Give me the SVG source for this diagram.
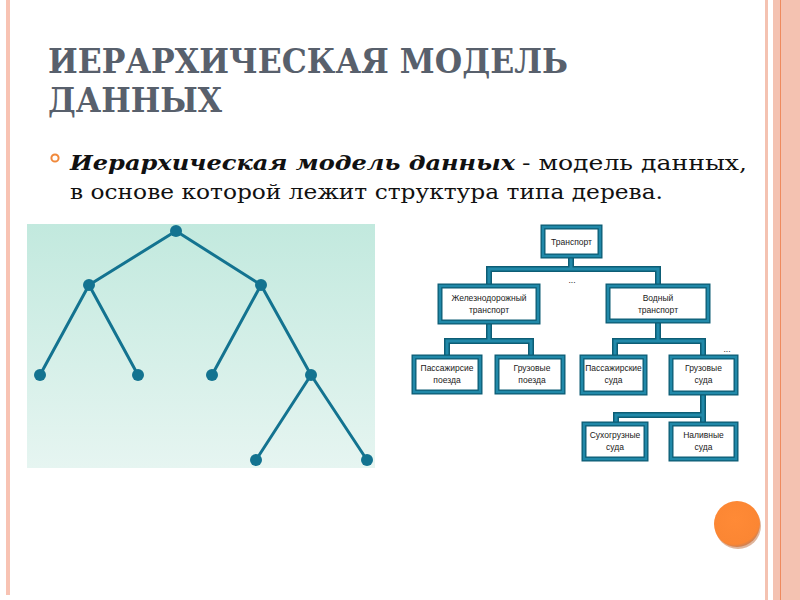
<svg xmlns="http://www.w3.org/2000/svg" width="800" height="600" viewBox="0 0 800 600">
  <defs>
    <linearGradient id="bg" x1="0" y1="0" x2="0" y2="1">
      <stop offset="0" stop-color="#c2e9de"/>
      <stop offset="1" stop-color="#e6f5f1"/>
    </linearGradient>
    <radialGradient id="dot" cx="0.45" cy="0.4" r="0.6">
      <stop offset="0" stop-color="#ff8a36"/>
      <stop offset="0.9" stop-color="#fb8633"/>
      <stop offset="1" stop-color="#d08050"/>
    </radialGradient>
    <style>
      .title{font-family:"DejaVu Serif","Liberation Serif",serif;font-weight:bold;font-size:33px;fill:#58606c}
      .body{font-family:"DejaVu Serif","Liberation Serif",serif;font-size:21px;fill:#111}
      .bi{font-weight:bold;font-style:italic}
      .edge{stroke:#137390;stroke-width:3;fill:none;stroke-linecap:round}
      .tn{fill:#137390}
      .bo{fill:#fff;stroke:#0d5d75;stroke-width:5}
      .bin{fill:none;stroke:#2189a9;stroke-width:2.4}
      .co{stroke:#0d5d75;stroke-width:6;fill:none}
      .ci{stroke:#2189a9;stroke-width:3;fill:none}
      .bt{font-family:"Liberation Sans",sans-serif;font-size:8.5px;fill:#1a1a1a;text-anchor:middle}
    </style>
  </defs>

  <rect width="800" height="600" fill="#fff"/>
  <!-- decorative borders -->
  <rect x="6" y="0" width="4" height="595" fill="#f8c3b3"/>
  <rect x="765" y="0" width="3" height="600" fill="#f4c2b1"/>
  <rect x="773" y="0" width="27" height="600" fill="#f4c2b1"/>
  <line x1="780.5" y1="0" x2="780.5" y2="600" stroke="#ee8a5e" stroke-width="1"/>

  <!-- title -->
  <text class="title" x="48" y="73" textLength="520" lengthAdjust="spacingAndGlyphs">ИЕРАРХИЧЕСКАЯ МОДЕЛЬ</text>
  <text class="title" x="48" y="112" textLength="174" lengthAdjust="spacingAndGlyphs">ДАННЫХ</text>

  <!-- bullet -->
  <circle cx="55" cy="158" r="3.6" fill="none" stroke="#f0883a" stroke-width="2"/>
  <text class="body bi" x="70" y="170" textLength="445" lengthAdjust="spacingAndGlyphs">Иерархическая модель данных</text>
  <text class="body" x="522" y="170" textLength="225" lengthAdjust="spacingAndGlyphs">- модель данных,</text>
  <text class="body" x="70" y="199" textLength="593" lengthAdjust="spacingAndGlyphs">в основе которой лежит структура типа дерева.</text>

  <!-- left abstract tree -->
  <g id="tree">
    <rect x="27" y="224" width="348" height="244" fill="url(#bg)"/>
    <g id="tree-edges">
      <line class="edge" x1="176" y1="231" x2="89" y2="285"/>
      <line class="edge" x1="176" y1="231" x2="261" y2="285"/>
      <line class="edge" x1="89" y1="285" x2="40" y2="375"/>
      <line class="edge" x1="89" y1="285" x2="138" y2="375"/>
      <line class="edge" x1="261" y1="285" x2="212" y2="375"/>
      <line class="edge" x1="261" y1="285" x2="311" y2="375"/>
      <line class="edge" x1="311" y1="375" x2="256" y2="460"/>
      <line class="edge" x1="311" y1="375" x2="367" y2="460"/>
    </g>
    <g id="tree-nodes">
      <circle class="tn" cx="176" cy="231" r="6"/>
      <circle class="tn" cx="89" cy="285" r="6"/>
      <circle class="tn" cx="261" cy="285" r="6"/>
      <circle class="tn" cx="40" cy="375" r="6"/>
      <circle class="tn" cx="138" cy="375" r="6"/>
      <circle class="tn" cx="212" cy="375" r="6"/>
      <circle class="tn" cx="311" cy="375" r="6"/>
      <circle class="tn" cx="256" cy="460" r="6"/>
      <circle class="tn" cx="367" cy="460" r="6"/>
    </g>
  </g>

  <!-- org chart connectors -->
  <g id="connectors">
    <path class="co" d="M571 256 V269 M489 286 V269 H658 V286 M489 322 V341 M447 357 V341 H531 V357 M658 321 V341 M615 357 V341 H703 V357 M703 393 V415 M616 424 V415 H703 V424"/>
    <path class="ci" d="M571 256 V269 M489 286 V269 H658 V286 M489 322 V341 M447 357 V341 H531 V357 M658 321 V341 M615 357 V341 H703 V357 M703 393 V415 M616 424 V415 H703 V424"/>
  </g>

  <text class="bt" x="572" y="283">...</text>
  <text class="bt" x="727" y="352">...</text>

  <g id="n-transport">
    <rect class="bo" x="543" y="227" width="57" height="29"/>
    <rect class="bin" x="543" y="227" width="57" height="29"/>
    <text class="bt" x="571.5" y="244.5">Транспорт</text>
  </g>
  <g id="n-rail">
    <rect class="bo" x="440" y="286" width="98" height="36"/>
    <rect class="bin" x="440" y="286" width="98" height="36"/>
    <text class="bt" x="489" y="301">Железнодорожный</text>
    <text class="bt" x="489" y="313">транспорт</text>
  </g>
  <g id="n-water">
    <rect class="bo" x="608" y="286" width="100" height="35"/>
    <rect class="bin" x="608" y="286" width="100" height="35"/>
    <text class="bt" x="658" y="301">Водный</text>
    <text class="bt" x="658" y="313">транспорт</text>
  </g>
  <g id="n-pass-trains">
    <rect class="bo" x="414" y="357" width="66" height="35"/>
    <rect class="bin" x="414" y="357" width="66" height="35"/>
    <text class="bt" x="447" y="371">Пассажирсие</text>
    <text class="bt" x="447" y="383">поезда</text>
  </g>
  <g id="n-cargo-trains">
    <rect class="bo" x="497" y="357" width="66" height="35"/>
    <rect class="bin" x="497" y="357" width="66" height="35"/>
    <text class="bt" x="532" y="371">Грузовые</text>
    <text class="bt" x="532" y="383">поезда</text>
  </g>
  <g id="n-pass-ships">
    <rect class="bo" x="582" y="357" width="63" height="36"/>
    <rect class="bin" x="582" y="357" width="63" height="36"/>
    <text class="bt" x="613.5" y="371">Пассажирские</text>
    <text class="bt" x="613.5" y="383">суда</text>
  </g>
  <g id="n-cargo-ships">
    <rect class="bo" x="671" y="357" width="65" height="36"/>
    <rect class="bin" x="671" y="357" width="65" height="36"/>
    <text class="bt" x="703.5" y="371">Грузовые</text>
    <text class="bt" x="703.5" y="383">суда</text>
  </g>
  <g id="n-dry-ships">
    <rect class="bo" x="584" y="424" width="62" height="35"/>
    <rect class="bin" x="584" y="424" width="62" height="35"/>
    <text class="bt" x="615" y="438">Сухогрузные</text>
    <text class="bt" x="615" y="450">суда</text>
  </g>
  <g id="n-liquid-ships">
    <rect class="bo" x="671" y="424" width="65" height="35"/>
    <rect class="bin" x="671" y="424" width="65" height="35"/>
    <text class="bt" x="703.5" y="438">Наливные</text>
    <text class="bt" x="703.5" y="450">суда</text>
  </g>

  <!-- orange decorative dot -->
  <circle cx="738" cy="526" r="23" fill="#c9845a" opacity="0.6"/>
  <circle cx="737" cy="524" r="23" fill="url(#dot)"/>
</svg>
